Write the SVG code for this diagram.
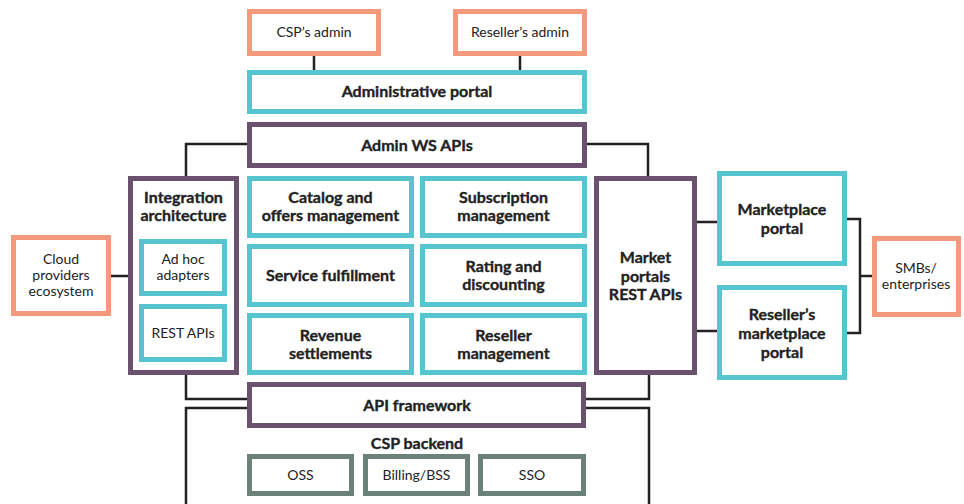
<svg xmlns="http://www.w3.org/2000/svg" width="964" height="504" viewBox="0 0 964 504">
<style>
.o{fill:#fff;stroke:#f4997c;stroke-width:5}
.t{fill:#fff;stroke:#57c5cf;stroke-width:5}
.p{fill:#fff;stroke:#6a516d;stroke-width:5}
.g{fill:#fff;stroke:#6c8279;stroke-width:5}
text{font-family:"Lato","Liberation Sans",sans-serif;fill:#222;text-anchor:middle;dominant-baseline:central;transform:translateY(-1px)}
.b{font-weight:bold;font-size:16px;stroke:#222;stroke-width:0.35}
.r{font-size:14px}
.c{fill:none;stroke:#222;stroke-width:2.5}
</style>
<g id="connectors">
<path class="c" d="M314 56V70M520 56V70"/>
<path class="c" d="M247 144H186V176M587 144H648V176"/>
<path class="c" d="M111 276H128"/>
<path class="c" d="M697 222H717M697 331H717"/>
<path class="c" d="M847 219H860V333H847M860 276H873"/>
<path class="c" d="M186 375V399H247M649 375V399H586"/>
<path class="c" d="M247 408H186V506M586 408H649V506"/>
</g>
<g id="csp-admin"><rect class="o" x="249.5" y="11.5" width="129" height="42"/><text class="r" x="314" y="32">CSP’s admin</text></g>
<g id="reseller-admin"><rect class="o" x="455.5" y="11.5" width="129" height="42"/><text class="r" x="520" y="32">Reseller’s admin</text></g>
<g id="admin-portal"><rect class="t" x="249.5" y="72.5" width="335" height="39"/><text class="b" x="417" y="91">Administrative portal</text></g>
<g id="admin-ws"><rect class="p" x="249.5" y="124.5" width="335" height="41"/><text class="b" x="417" y="145">Admin WS APIs</text></g>
<g id="integration"><rect class="p" x="130.5" y="178.5" width="106" height="194"/><text class="b" x="183.5" y="197">Integration</text><text class="b" x="183.5" y="215">architecture</text></g>
<g id="adhoc"><rect class="t" x="141.5" y="241.5" width="83" height="52"/><text class="r" x="183" y="259">Ad hoc</text><text class="r" x="183" y="275">adapters</text></g>
<g id="rest-apis"><rect class="t" x="141.5" y="306.5" width="83" height="53"/><text class="r" x="183" y="333">REST APIs</text></g>
<g id="cloud"><rect class="o" x="13.5" y="237.5" width="95" height="76"/><text class="r" x="61" y="259">Cloud</text><text class="r" x="61" y="275">providers</text><text class="r" x="61" y="291">ecosystem</text></g>
<g id="catalog"><rect class="t" x="249.5" y="178.5" width="162" height="57"/><text class="b" x="330.5" y="197">Catalog and</text><text class="b" x="330.5" y="215">offers management</text></g>
<g id="subscription"><rect class="t" x="422.5" y="178.5" width="162" height="57"/><text class="b" x="503.5" y="197">Subscription</text><text class="b" x="503.5" y="215">management</text></g>
<g id="fulfillment"><rect class="t" x="249.5" y="246.5" width="162" height="58"/><text class="b" x="330.5" y="275">Service fulfillment</text></g>
<g id="rating"><rect class="t" x="422.5" y="246.5" width="162" height="58"/><text class="b" x="503.5" y="266">Rating and</text><text class="b" x="503.5" y="284">discounting</text></g>
<g id="revenue"><rect class="t" x="249.5" y="315.5" width="162" height="57"/><text class="b" x="330.5" y="335">Revenue</text><text class="b" x="330.5" y="353">settlements</text></g>
<g id="reseller-mgmt"><rect class="t" x="422.5" y="315.5" width="162" height="57"/><text class="b" x="503.5" y="335">Reseller</text><text class="b" x="503.5" y="353">management</text></g>
<g id="market-rest"><rect class="p" x="596.5" y="178.5" width="98" height="194"/><text class="b" x="645.5" y="257">Market</text><text class="b" x="645.5" y="276">portals</text><text class="b" x="645.5" y="294">REST APIs</text></g>
<g id="marketplace"><rect class="t" x="719.5" y="173.5" width="125" height="90"/><text class="b" x="782" y="209">Marketplace</text><text class="b" x="782" y="228">portal</text></g>
<g id="reseller-marketplace"><rect class="t" x="719.5" y="287.5" width="125" height="90"/><text class="b" x="782" y="314">Reseller’s</text><text class="b" x="782" y="333">marketplace</text><text class="b" x="782" y="352">portal</text></g>
<g id="smbs"><rect class="o" x="874.5" y="238.5" width="84" height="76"/><text class="r" x="916" y="268">SMBs/</text><text class="r" x="916" y="284">enterprises</text></g>
<g id="api-framework"><rect class="p" x="249.5" y="384.5" width="334" height="41"/><text class="b" x="417" y="405">API framework</text></g>
<g id="csp-backend"><text class="b" x="417" y="443">CSP backend</text></g>
<g id="oss"><rect class="g" x="249.5" y="456.5" width="102" height="37"/><text class="r" x="300.5" y="475">OSS</text></g>
<g id="billing"><rect class="g" x="365.5" y="456.5" width="102" height="37"/><text class="r" x="416.5" y="475">Billing/BSS</text></g>
<g id="sso"><rect class="g" x="480.5" y="456.5" width="103" height="37"/><text class="r" x="532" y="475">SSO</text></g>
</svg>
